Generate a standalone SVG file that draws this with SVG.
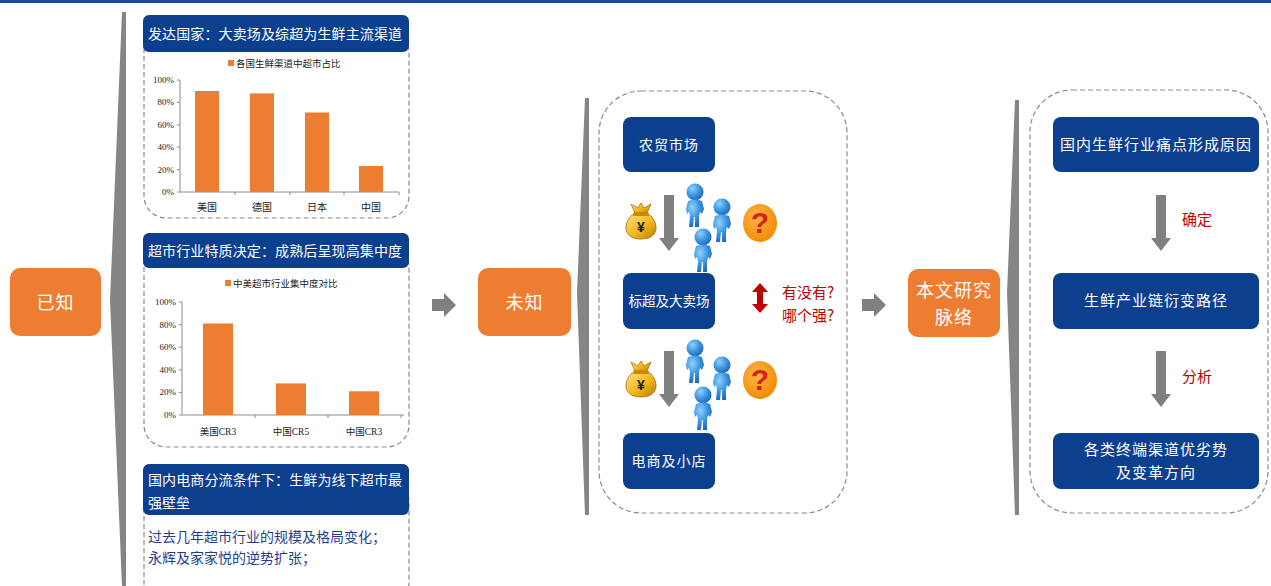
<svg xmlns="http://www.w3.org/2000/svg" width="1271" height="586" viewBox="0 0 1271 586">
  <style>
    .cjk { font-family: "Noto Sans CJK SC", "Liberation Sans", sans-serif; }
    .serif { font-family: "Liberation Serif", "Noto Sans CJK SC", serif; }
    .navy { fill: #0d3f8f; }
    .orange { fill: #ed7d31; }
    .dash { fill: none; stroke: #8a8a8a; stroke-width: 1.2; stroke-dasharray: 5 3; }
    .brace { fill: #858585; }
    .hdr { font-size: 14px; fill: #ffffff; }
    .box-t { font-size: 14px; fill: #ffffff; text-anchor: middle; letter-spacing: 1px; }
    .box-t2 { font-size: 15px; fill: #ffffff; text-anchor: middle; letter-spacing: 1px; }
    .big-t { font-size: 18px; fill: #ffffff; text-anchor: middle; letter-spacing: 1px; }
    .red-t { font-size: 15px; fill: #c00000; }
    .axis { stroke: #8c8c8c; stroke-width: 1; fill: none; }
    .tick { font-size: 9px; fill: #222; text-anchor: end; }
    .cat { font-size: 10px; fill: #222; text-anchor: middle; }
    .leg { font-size: 9.5px; fill: #222; }
    .bar { fill: #ed7d31; }
    .garrow { fill: #808080; }
    .body-t { font-size: 14px; fill: #1f3f8f; }
  </style>
  <defs>
    <radialGradient id="personGrad" cx="0.35" cy="0.3" r="0.8">
      <stop offset="0" stop-color="#8fd0ff"/>
      <stop offset="0.5" stop-color="#3c96e0"/>
      <stop offset="1" stop-color="#1a5fb0"/>
    </radialGradient>
    <linearGradient id="bagGrad" x1="0" y1="0" x2="1" y2="1">
      <stop offset="0" stop-color="#ffe27a"/>
      <stop offset="0.55" stop-color="#f2b51c"/>
      <stop offset="1" stop-color="#b57b06"/>
    </linearGradient>
    <radialGradient id="qGrad" cx="0.4" cy="0.35" r="0.7">
      <stop offset="0" stop-color="#ffb347"/>
      <stop offset="1" stop-color="#f08a00"/>
    </radialGradient>
    <!-- walking figure, head centred on origin -->
    <g id="person">
      <circle cx="0" cy="0" r="8.5" fill="url(#personGrad)"/>
      <path d="M-7,9 Q0,6 7,9 L9,17 L7,22 L5,20 L4,24 L4,35 L0,35 L0,25 L-1,25 L-2,35 L-6,35 L-5,24 L-6,20 L-8,22 L-9,17 Z" fill="url(#personGrad)"/>
    </g>
    <!-- money bag with yen sign, centred on origin -->
    <g id="moneybag">
      <path d="M-9,-6 C-19,4 -17,18 0,18 C17,18 19,4 9,-6 Z" fill="url(#bagGrad)" stroke="#a86e00" stroke-width="0.8"/>
      <path d="M-6,-8 L-10,-17 L-3,-13 L0,-18 L3,-13 L10,-17 L6,-8 Z" fill="url(#bagGrad)" stroke="#a86e00" stroke-width="0.8"/>
      <rect x="-8" y="-9" width="16" height="4" rx="2" fill="#c98a08"/>
      <text x="0" y="11" font-family="Liberation Sans, sans-serif" font-size="14" font-weight="bold" text-anchor="middle" fill="#222">¥</text>
    </g>
    <!-- orange question badge, centred on origin -->
    <g id="question">
      <ellipse cx="0" cy="0" rx="17" ry="19" fill="url(#qGrad)"/>
      <text x="0" y="10" font-family="Liberation Sans, sans-serif" font-size="30" font-weight="bold" text-anchor="middle" fill="#d4241a">?</text>
    </g>
    <!-- grey downward block arrow, top-centre on origin -->
    <path id="downArrow" d="M-5,0 L5,0 L5,43 L10,43 L0,56 L-10,43 L-5,43 Z"/>
    <!-- grey right-pointing block arrow, centred on origin -->
    <path id="rightArrow" d="M-12,-6 L0,-6 L0,-12 L12,0 L0,12 L0,6 L-12,6 Z"/>
  </defs>

  <!-- top rule -->
  <rect x="0" y="0" width="1271" height="3" fill="#1d4b9b"/>

  <!-- braces -->
  <g id="braces">
    <path class="brace" d="M122,12 L126,12 L126,586 L122,586 L110,300 Z"/>
    <path class="brace" d="M585,98 L589,98 L589,515 L585,515 L577,293 Z"/>
    <path class="brace" d="M1015,100 L1019,100 L1019,515 L1015,515 L1007,293 Z"/>
  </g>

  <!-- known -->
  <g id="node-known">
    <rect x="10" y="268" width="91" height="68" rx="10" class="orange"/>
    <text x="55.5" y="309" class="cjk big-t">已知</text>
  </g>

  <!-- panel 1 : developed countries -->
  <g id="panel-developed">
    <rect x="144" y="30" width="265" height="188" rx="22" class="dash"/>
    <rect x="143" y="15" width="266" height="37" rx="6" class="navy"/>
    <text x="148" y="39" class="cjk hdr" textLength="254">发达国家：大卖场及综超为生鲜主流渠道</text>
    <g id="chart-share">
      <rect x="228" y="60" width="6" height="6" class="bar"/>
      <text x="236" y="67" class="serif leg">各国生鲜渠道中超市占比</text>
      <path class="axis" d="M180,80 L180,192 L399,192 M177,80 L180,80 M177,102.4 L180,102.4 M177,124.8 L180,124.8 M177,147.2 L180,147.2 M177,169.6 L180,169.6 M177,192 L180,192 M235,192 L235,195 M290,192 L290,195 M344,192 L344,195 M399,192 L399,195"/>
      <text x="174" y="83" class="serif tick">100%</text>
      <text x="174" y="105.4" class="serif tick">80%</text>
      <text x="174" y="127.8" class="serif tick">60%</text>
      <text x="174" y="150.2" class="serif tick">40%</text>
      <text x="174" y="172.6" class="serif tick">20%</text>
      <text x="174" y="195" class="serif tick">0%</text>
      <rect x="195" y="91" width="24" height="101" class="bar"/>
      <rect x="250" y="93.4" width="24" height="98.6" class="bar"/>
      <rect x="305" y="112.5" width="24" height="79.5" class="bar"/>
      <rect x="359" y="166" width="24" height="26" class="bar"/>
      <text x="207" y="211" class="serif cat">美国</text>
      <text x="262" y="211" class="serif cat">德国</text>
      <text x="317" y="211" class="serif cat">日本</text>
      <text x="371" y="211" class="serif cat">中国</text>
    </g>
  </g>

  <!-- panel 2 : concentration -->
  <g id="panel-concentration">
    <rect x="144" y="245" width="265" height="202" rx="22" class="dash"/>
    <rect x="143" y="233" width="266" height="35" rx="6" class="navy"/>
    <text x="148" y="256" class="cjk hdr" textLength="254">超市行业特质决定：成熟后呈现高集中度</text>
    <g id="chart-cr">
      <rect x="225" y="280" width="6" height="6" class="bar"/>
      <text x="233" y="287" class="serif leg">中美超市行业集中度对比</text>
      <path class="axis" d="M182,302 L182,415 L404,415 M179,302 L182,302 M179,324.6 L182,324.6 M179,347.2 L182,347.2 M179,369.8 L182,369.8 M179,392.4 L182,392.4 M179,415 L182,415 M255,415 L255,418 M328,415 L328,418 M401,415 L401,418"/>
      <text x="176" y="305" class="serif tick">100%</text>
      <text x="176" y="327.6" class="serif tick">80%</text>
      <text x="176" y="350.2" class="serif tick">60%</text>
      <text x="176" y="372.8" class="serif tick">40%</text>
      <text x="176" y="395.4" class="serif tick">20%</text>
      <text x="176" y="418" class="serif tick">0%</text>
      <rect x="203" y="323.5" width="30" height="91.5" class="bar"/>
      <rect x="276" y="383.4" width="30" height="31.6" class="bar"/>
      <rect x="349" y="391.3" width="30" height="23.7" class="bar"/>
      <text x="218" y="435" class="serif cat" style="font-size:9.5px">美国CR3</text>
      <text x="291" y="435" class="serif cat" style="font-size:9.5px">中国CR5</text>
      <text x="364" y="435" class="serif cat" style="font-size:9.5px">中国CR3</text>
    </g>
  </g>

  <!-- panel 3 : e-commerce -->
  <g id="panel-ecommerce">
    <rect x="144" y="480" width="265" height="125" rx="22" class="dash"/>
    <rect x="143" y="464" width="266" height="51" rx="6" class="navy"/>
    <text x="148" y="485" class="cjk hdr" textLength="254">国内电商分流条件下：生鲜为线下超市最</text>
    <text x="148" y="508" class="cjk hdr">强壁垒</text>
    <text x="148" y="542" class="cjk body-t">过去几年超市行业的规模及格局变化；</text>
    <text x="148" y="563" class="cjk body-t">永辉及家家悦的逆势扩张；</text>
  </g>

  <!-- unknown -->
  <g id="node-unknown">
    <rect x="478" y="268" width="93" height="68" rx="10" class="orange"/>
    <text x="524.5" y="309" class="cjk big-t">未知</text>
  </g>

  <!-- channel comparison -->
  <g id="panel-channels">
    <rect x="599" y="91" width="248" height="422" rx="42" class="dash"/>
    <g id="node-wetmarket">
      <rect x="623" y="117" width="92" height="55" rx="8" class="navy"/>
      <text x="669" y="150" class="cjk box-t">农贸市场</text>
    </g>
    <g id="node-hypermarket">
      <rect x="623" y="273" width="92" height="56" rx="8" class="navy"/>
      <text x="669" y="306" class="cjk box-t" style="font-size:13.5px;letter-spacing:0">标超及大卖场</text>
    </g>
    <g id="node-ecom">
      <rect x="623" y="433" width="92" height="56" rx="8" class="navy"/>
      <text x="669" y="466" class="cjk box-t">电商及小店</text>
    </g>
    <use href="#moneybag" x="641" y="221"/>
    <use href="#moneybag" x="641" y="379"/>
    <use href="#person" x="695" y="192"/>
    <use href="#person" x="722" y="207"/>
    <use href="#person" x="703" y="237"/>
    <use href="#person" x="695" y="348"/>
    <use href="#person" x="722" y="365"/>
    <use href="#person" x="703" y="395"/>
    <use href="#question" x="760" y="223"/>
    <use href="#question" x="760" y="380"/>
    <path d="M760,283 L768,292 L763,292 L763,304 L768,304 L760,313 L752,304 L757,304 L757,292 L752,292 Z" fill="#c00000"/>
    <text x="782" y="298" class="cjk red-t">有没有?</text>
    <text x="782" y="321" class="cjk red-t">哪个强?</text>
  </g>

  <!-- research outline -->
  <g id="node-outline">
    <rect x="908" y="269" width="92" height="68" rx="10" class="orange"/>
    <text x="954" y="297" class="cjk big-t">本文研究</text>
    <text x="954" y="324" class="cjk big-t">脉络</text>
  </g>

  <g id="panel-outline">
    <rect x="1030" y="90" width="238" height="423" rx="42" class="dash"/>
    <g id="node-painpoints">
      <rect x="1053" y="117" width="206" height="55" rx="8" class="navy"/>
      <text x="1156" y="150" class="cjk box-t2">国内生鲜行业痛点形成原因</text>
    </g>
    <g id="node-chain">
      <rect x="1053" y="273" width="206" height="56" rx="8" class="navy"/>
      <text x="1156" y="306" class="cjk box-t2">生鲜产业链衍变路径</text>
    </g>
    <g id="node-terminals">
      <rect x="1053" y="433" width="206" height="56" rx="8" class="navy"/>
      <text x="1156" y="455" class="cjk box-t2">各类终端渠道优劣势</text>
      <text x="1156" y="478" class="cjk box-t2">及变革方向</text>
    </g>
    <text x="1182" y="225" class="cjk red-t">确定</text>
    <text x="1182" y="382" class="cjk red-t">分析</text>
  </g>

  <!-- connectors -->
  <g id="connectors" class="garrow">
    <use href="#rightArrow" x="444" y="305"/>
    <use href="#rightArrow" x="874" y="305"/>
    <use href="#downArrow" x="669" y="195"/>
    <use href="#downArrow" x="669" y="351"/>
    <use href="#downArrow" x="1161" y="195"/>
    <use href="#downArrow" x="1161" y="351"/>
  </g>
</svg>
